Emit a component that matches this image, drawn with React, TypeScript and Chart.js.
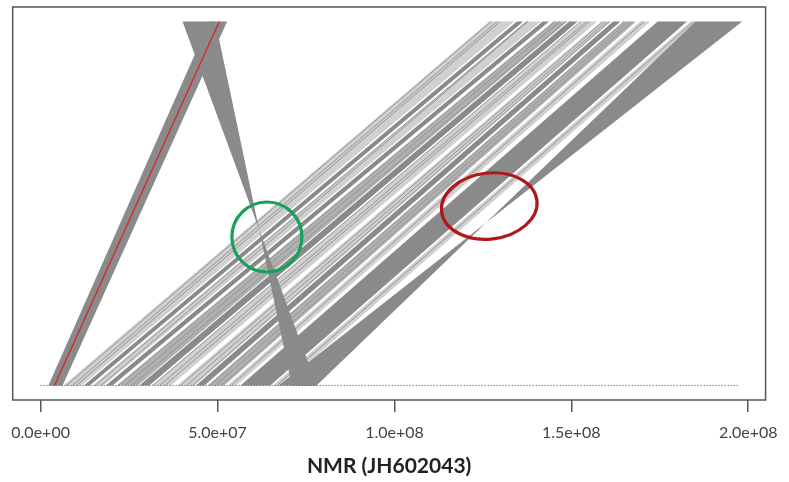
import React, { useEffect, useRef } from "react";
import { Chart, registerables } from "chart.js";

Chart.register(...registerables);

// ---------- axis ----------
const X_MIN = -7.9e6;
const X_MAX = 204.9e6;
const Y_MIN = -0.04;
const Y_MAX = 1.04;
const tickValues = [0, 5e7, 1e8, 1.5e8, 2e8];
const axisTitle = "NMR (JH602043)";
const baselineStart = 0; // Mb
const baselineEnd = 197; // Mb

// ---------- synteny bundles (positions in Mb; bottom = NMR, top = other genome) ----------
// a bundle runs bottomStart->topStart and bottomEnd->topEnd (reversed tops = inversion)
const bandBottomStart = [6.45, 12.2, 14.7, 18.4, 21.6, 27.9, 31.5, 38.6, 43.9, 47.2, 52.8, 56.5, 65.6, 67.32];
const bandBottomEnd = [11.6, 13.9, 17.7, 20.3, 27.5, 30.7, 36.8, 43.5, 46.3, 51.9, 55.3, 64.9, 68.2, 77.98];
const bandTopStart = [126.8, 134.6, 137.3, 141.9, 145.0, 149.4, 152.7, 158.4, 161.8, 164.8, 169.4, 174.4, 183.7, 198.3];
const bandTopEnd = [133.9, 136.4, 141.4, 143.7, 148.9, 151.8, 157.3, 161.3, 163.9, 168.3, 172.3, 182.7, 186.2, 185.1];
const bandShade = ["light", "dark", "light", "dark", "mid", "dark", "light", "light", "dark", "mid", "light", "dark", "light", "dark"];

// individual links inside the bundles (Mb)
const linkBottom = [7.29, 8.98, 10.1, 15.43, 17.11, 21.88, 23.84, 25.81, 31.7, 33.66, 35.06, 39.55, 41.23, 42.92, 47.69, 49.37, 51.05, 53.86, 66.76];
const linkTop = [127.3, 129.0, 129.9, 137.4, 137.7, 145.3, 146.7, 148.4, 152.6, 154.3, 155.1, 159.0, 159.9, 160.7, 164.9, 166.1, 167.2, 170.5, 184.6];

// crossing bundles (the "X")
const forwardBottom = [2.2, 6.2];
const forwardTop = [47.7, 52.7];
const invertedBottom = [78.0, 71.0];
const invertedTop = [40.1, 49.4];

// highlighted link (red)
const highlightBottom = 3.9;
const highlightTop = 50.5;

// annotation marks
const greenMark = { x: 63.95e6, y: 0.408, rx: 35, ry: 35, rot: 0, color: "#17a05a" };
const redMark = { x: 126.8e6, y: 0.493, rx: 48, ry: 33, rot: -0.12, color: "#b01818" };

const shadeColor: Record<string, string> = {
  dark: "#8a8a8a",
  mid: "#b0b0b0",
  light: "#d0d0d0",
};

const M = 1e6;

function fmtTick(v: number): string {
  if (v === 0) return "0.0e+00";
  const e = Math.floor(Math.log10(v) + 1e-9);
  const m = v / Math.pow(10, e);
  return m.toFixed(1) + "e+" + String(e).padStart(2, "0");
}

const framePlugin = {
  id: "frame",
  afterDatasetsDraw(chart: any) {
    const { ctx, chartArea, scales } = chart;
    const x = scales.x;
    const y = scales.y;
    for (const mk of [greenMark, redMark]) {
      ctx.save();
      ctx.beginPath();
      ctx.ellipse(x.getPixelForValue(mk.x), y.getPixelForValue(mk.y), mk.rx, mk.ry, mk.rot, 0, Math.PI * 2);
      ctx.lineWidth = 3.2;
      ctx.strokeStyle = mk.color;
      ctx.stroke();
      ctx.restore();
    }
    ctx.save();
    ctx.lineWidth = 1.5;
    ctx.strokeStyle = "#555";
    ctx.strokeRect(chartArea.left, chartArea.top, chartArea.right - chartArea.left, chartArea.bottom - chartArea.top);
    ctx.restore();
  },
};

function quad(b0: number, b1: number, t0: number, t1: number, col: string) {
  return {
    data: [
      { x: b0 * M, y: 0 },
      { x: b1 * M, y: 0 },
      { x: t1 * M, y: 1 },
      { x: t0 * M, y: 1 },
      { x: b0 * M, y: 0 },
    ],
    showLine: true,
    fill: "shape",
    backgroundColor: col,
    borderColor: "rgba(0,0,0,0)",
    borderWidth: 1,
    pointRadius: 0,
    tension: 0,
  };
}

function link(b: number, t: number, col: string, w: number) {
  return {
    data: [
      { x: b * M, y: 0 },
      { x: t * M, y: 1 },
    ],
    showLine: true,
    borderColor: col,
    borderWidth: w,
    pointRadius: 0,
  };
}

export default function App() {
  const ref = useRef<HTMLCanvasElement>(null);

  useEffect(() => {
    if (!ref.current) return;
    // paint order: first = bottom-most
    const paint: any[] = [];

    bandBottomStart.forEach((b0, i) => {
      if (bandShade[i] !== "dark") {
        paint.push(quad(b0, bandBottomEnd[i], bandTopStart[i], bandTopEnd[i], shadeColor[bandShade[i]]));
      }
    });
    linkBottom.forEach((lb, j) => paint.push(link(lb, linkTop[j], "#969696", 1)));
    bandBottomStart.forEach((b0, i) => {
      if (bandShade[i] === "dark") {
        paint.push(quad(b0, bandBottomEnd[i], bandTopStart[i], bandTopEnd[i], shadeColor.dark));
      }
    });

    paint.push(quad(forwardBottom[0], forwardBottom[1], forwardTop[0], forwardTop[1], shadeColor.dark));
    paint.push(quad(invertedBottom[0], invertedBottom[1], invertedTop[0], invertedTop[1], shadeColor.dark));
    paint.push(link(highlightBottom, highlightTop, "#d42a2a", 1.4));

    // dotted baseline
    paint.push({
      data: [
        { x: baselineStart * M, y: 0 },
        { x: baselineEnd * M, y: 0 },
      ],
      showLine: true,
      borderColor: "#444",
      borderWidth: 1,
      borderDash: [1, 2],
      pointRadius: 0,
    });

    // Chart.js paints the first dataset last (on top), so reverse
    const datasets = paint.slice().reverse();

    const chart = new Chart(ref.current, {
      type: "scatter",
      data: { datasets },
      options: {
        animation: false,
        responsive: false,
        layout: { padding: { left: 12, right: 20, top: 7, bottom: 0 } },
        plugins: { legend: { display: false }, tooltip: { enabled: false } },
        scales: {
          x: {
            type: "linear",
            min: X_MIN,
            max: X_MAX,
            afterBuildTicks: (s: any) => {
              s.ticks = tickValues.map((v) => ({ value: v }));
            },
            afterFit: (s: any) => {
              s.height = 82;
            },
            ticks: {
              callback: (v: any) => fmtTick(Number(v)),
              font: { family: "Lato", size: 16 },
              color: "#444",
              padding: 11,
              maxRotation: 0,
              autoSkip: false,
            },
            grid: { drawOnChartArea: false, drawTicks: true, tickLength: 12, color: "#555", lineWidth: 1.5 },
            border: { display: false },
            title: {
              display: true,
              text: axisTitle,
              font: { family: "Lato", size: 21, weight: "bold" },
              color: "#222",
              padding: { top: 2, bottom: 3 },
            },
          },
          y: { type: "linear", display: false, min: Y_MIN, max: Y_MAX },
        },
      },
      plugins: [framePlugin],
    } as any);
    return () => chart.destroy();
  }, []);

  return (
    <div style={{ position: "fixed", left: 0, top: 0, width: 789, height: 482, background: "#fff" }}>
      <canvas ref={ref} width={789} height={482} style={{ display: "block" }} />
    </div>
  );
}
